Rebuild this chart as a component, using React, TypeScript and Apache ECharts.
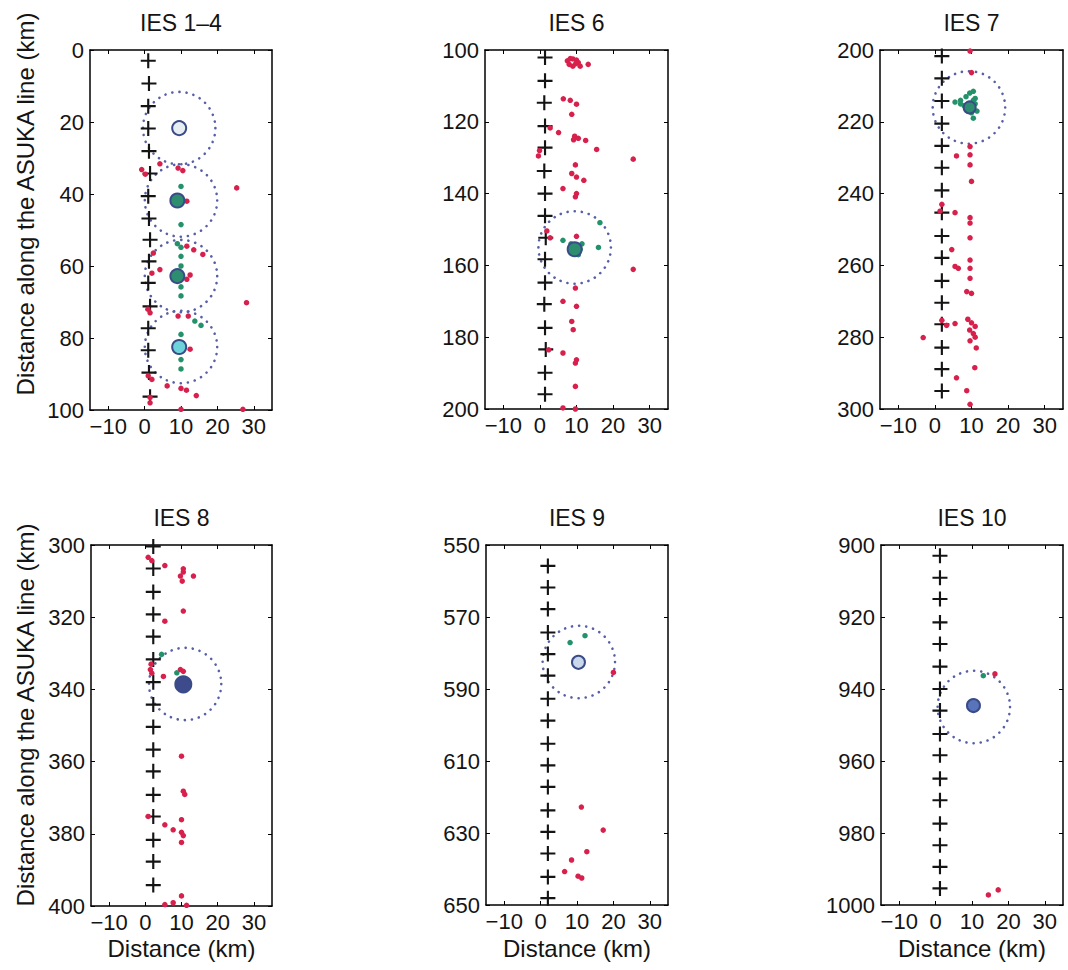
import React, { useEffect, useRef } from 'react';
import * as echarts from 'echarts';

// ---------- data ----------
const titles = ['IES 1–4', 'IES 6', 'IES 7', 'IES 8', 'IES 9', 'IES 10'];
const xRange = [-15, 35];
const xTicks = [-10, 0, 10, 20, 30];
const yRanges = [[0, 100], [100, 200], [200, 300], [300, 400], [550, 650], [900, 1000]];
const yTicks = [
  [0, 20, 40, 60, 80, 100],
  [100, 120, 140, 160, 180, 200],
  [200, 220, 240, 260, 280, 300],
  [300, 320, 340, 360, 380, 400],
  [550, 570, 590, 610, 630, 650],
  [900, 920, 940, 960, 980, 1000],
];
const yAxisName = 'Distance along the ASUKA line (km)';
const xAxisName = 'Distance (km)';

// IES 1-4
const plus1 = [[1.0, 3], [1.2, 9.3], [1.0, 15.6], [1.0, 21.8], [1.2, 28.1], [1.5, 34.3], [1.0, 40.6], [1.2, 46.8], [1.5, 52.7], [1.2, 58.7], [1.0, 64.7], [1.5, 71.2], [1.0, 77.3], [1.0, 83.4], [1.2, 89.6], [1.5, 96.3]];
const red1 = [[4.2, 31.6], [-0.8, 33.2], [0.2, 34.5], [9.2, 32.8], [10.5, 33.5], [25.3, 38.3], [11.6, 42], [11.6, 54.5], [2.4, 56.4], [13.5, 55.5], [16, 56.8], [4.2, 61], [2.0, 62], [11.6, 63.7], [12.5, 62.5], [28, 70.2], [0.9, 72], [1.5, 73], [9.2, 73.9], [12, 73.9], [12.5, 83.1], [1, 90.5], [2, 91.5], [6.2, 93.3], [10, 94], [11.5, 94.5], [14.2, 96], [1.5, 96.5], [1.5, 98], [10, 99.8], [27, 99.8]];
const green1 = [[10, 37.9], [10, 48.5], [9, 53.8], [10, 54.8], [10, 57.3], [10, 60], [10, 65.8], [10, 68.3], [13.8, 75.3], [15.5, 76.5], [10, 79], [10, 86], [10, 88.6]];
const ies1 = [[9.5, 21.7], [9, 41.8], [9, 62.8], [9.5, 82.5]];
const circ1 = [[9.5, 21.7, 10], [10, 41.8, 10], [10, 62.8, 10], [10, 82.5, 10]];

// IES 6
const plus2 = [[1.4, 102.1], [1.4, 108.6], [1.2, 114.7], [1.4, 121.2], [1.4, 127.2], [1.2, 133.7], [1.4, 140.0], [1.4, 146.2], [1.6, 152.3], [1.4, 158.3], [1.4, 164.8], [1.2, 170.8], [1.4, 177.4], [1.6, 183.4], [1.4, 189.9], [1.4, 195.9]];
const red2 = [[7.5, 103], [8.3, 102.4], [9, 102.5], [10, 102.8], [10.5, 103.5], [9, 104.5], [9.8, 103.8], [11, 104.5], [8, 104], [13.2, 104], [6.4, 113.6], [8.3, 114], [10, 115.1], [8.7, 117.9], [2.8, 121.7], [5.1, 123], [9.5, 124], [10.5, 124.6], [9.2, 125], [12.5, 125.2], [15.5, 127.7], [25.5, 130.4], [-0.4, 129.5], [-0.1, 128], [9.7, 132], [8.7, 134.4], [10, 135.4], [12, 136.3], [6.3, 138.6], [10, 140.0], [9.7, 140.9], [1.9, 150.4], [2.8, 152.3], [10, 151.9], [25.5, 161.1], [9.7, 166.3], [6.3, 170], [10, 171.4], [8.7, 175.6], [9.1, 177.9], [2.4, 183.5], [6.3, 184.4], [10, 186.3], [9.7, 187.2], [9.7, 193.7], [6.3, 199.7], [9.7, 200]];
const green2 = [[16.4, 148.1], [16, 155], [6.3, 153], [8.5, 154], [10, 154.5], [9.5, 156], [11, 155.5], [8.5, 156.5], [10.5, 157], [11.5, 154]];
const ies2 = [[9.5, 155.5]];
const circ2 = [[9.5, 155, 10]];

// IES 7
const plus3 = [[1.9, 201.7], [1.9, 207.9], [1.9, 214.2], [1.9, 220.5], [1.9, 226.7], [1.9, 232.8], [1.9, 239.1], [1.9, 245.3], [1.9, 251.8], [1.9, 257.9], [1.9, 264.3], [1.9, 270.4], [1.9, 276.4], [1.9, 282.9], [1.9, 288.9], [1.9, 295.0]];
const red3 = [[9.6, 200.3], [10, 206.3], [5.9, 229.5], [9.6, 226.9], [9.6, 229.2], [9.6, 232], [10, 236.6], [1.9, 243], [1.4, 244.9], [5.5, 245.3], [9.6, 246.7], [9.6, 248.2], [9.6, 252.3], [4.6, 255.6], [5.5, 260.3], [6.4, 260.8], [9.6, 258.5], [9.6, 260.8], [9.6, 263.6], [8.7, 267.3], [10, 267.8], [1.9, 275.3], [3.2, 276.7], [5.5, 276.2], [9, 275], [10, 276], [11, 277], [9.5, 278], [10.5, 279], [11, 280], [9.6, 281], [-3.2, 280.1], [11.3, 283], [10.9, 288.5], [5.9, 291.3], [8.7, 294.9], [9.6, 298.7]];
const green3 = [[5.5, 214.5], [7, 214], [8.5, 213], [9.5, 212], [10.5, 211.5], [9, 215], [10, 216], [11, 215], [10, 217.5], [11.5, 217], [10.5, 219], [8, 215.5], [7, 215], [11, 213.5], [9, 217], [10.5, 214]];
const ies3 = [[9.5, 216]];
const circ3 = [[9.3, 216, 10]];

// IES 8
const plus4 = [[2.2, 300.4], [2.2, 306.5], [2.2, 313.0], [2.2, 319.2], [2.2, 325.4], [2.2, 331.7], [2.2, 338.0], [2.2, 344.2], [2.2, 350.4], [2.2, 356.7], [2.2, 362.7], [2.2, 369.2], [2.2, 375.2], [2.2, 381.7], [2.2, 387.7], [2.2, 394.2]];
const red4 = [[0.8, 303.4], [1.8, 304.3], [5.4, 305.7], [10.5, 306.6], [10.5, 307.5], [9.7, 308.6], [10.2, 310], [13.3, 308.6], [10.5, 318.3], [5.4, 321.1], [1.6, 333], [1.4, 334.5], [1.8, 335.5], [5, 336.4], [9.7, 334.5], [10.5, 335], [10, 358.5], [10.5, 368.2], [10.9, 369.1], [0.8, 375.2], [5.4, 377.5], [7.7, 378.9], [10, 376.1], [10, 379.6], [10.5, 380.5], [10, 382.4], [10, 397.2], [5.4, 399.6], [7.7, 399.1], [11.4, 399.8]];
const green4 = [[4.5, 330.3], [8.7, 335.4]];
const ies4 = [[10.5, 338.6]];
const circ4 = [[11, 338.5, 10]];

// IES 9
const plus5 = [[2.0, 555.8], [2.0, 561.8], [2.0, 567.8], [2.0, 574.3], [2.0, 580.3], [2.0, 586.3], [2.0, 592.7], [2.0, 598.8], [2.0, 605.2], [2.0, 611.2], [2.0, 617.2], [2.0, 623.7], [2.0, 629.7], [2.0, 635.7], [2.0, 642.2], [2.0, 648.1]];
const red5 = [[20, 585.4], [11.2, 622.8], [17.2, 629.2], [12.7, 635.2], [8.5, 637.5], [6.6, 640.7], [10.3, 642], [11.3, 642.5]];
const green5 = [[8.1, 577.1], [12.2, 575.2]];
const ies5 = [[10.4, 582.6]];
const circ5 = [[10.5, 582.5, 10]];

// IES 10
const plus6 = [[1.2, 903.0], [1.2, 909.1], [1.2, 915.0], [1.2, 921.5], [1.2, 927.5], [1.2, 933.8], [1.2, 940.0], [1.2, 946.0], [1.2, 952.5], [1.2, 958.4], [1.2, 964.9], [1.2, 970.9], [1.2, 977.4], [1.2, 983.4], [1.2, 989.4], [1.2, 995.4]];
const red6 = [[16.3, 935.8], [14.5, 997.2], [17.2, 995.8]];
const green6 = [[13.1, 936.3]];
const ies6 = [[10.4, 944.6]];
const circ6 = [[10.5, 945, 10]];

// ---------- styling / layout ----------
const FONT = '"Liberation Sans", Arial, Helvetica, sans-serif';
const INK = '#141414';
const RED = '#d8204c';
const GREEN = '#23916a';
const CIRCLE = '#5760a6';
const PLUS = 'path://M6,0H8V6H14V8H8V14H6V8H0V6H6Z';

const panels = [
  { plus: plus1, red: red1, green: green1, ies: ies1, circ: circ1, iesFill: ['#e6eef2', '#2c8e6e', '#2c8e6e', '#6cd3da'], iesSize: 14 },
  { plus: plus2, red: red2, green: green2, ies: ies2, circ: circ2, iesFill: ['#2c8e6e'], iesSize: 14 },
  { plus: plus3, red: red3, green: green3, ies: ies3, circ: circ3, iesFill: ['#2c8e6e'], iesSize: 12 },
  { plus: plus4, red: red4, green: green4, ies: ies4, circ: circ4, iesFill: ['#3d4a8c'], iesSize: 16 },
  { plus: plus5, red: red5, green: green5, ies: ies5, circ: circ5, iesFill: ['#c9d8ea'], iesSize: 13 },
  { plus: plus6, red: red6, green: green6, ies: ies6, circ: circ6, iesFill: ['#5a74bb'], iesSize: 13 },
];

const grids = [
  { left: 90, top: 50, width: 182, height: 360 },
  { left: 485, top: 50, width: 183, height: 359 },
  { left: 880, top: 50, width: 183, height: 359 },
  { left: 91, top: 545, width: 181, height: 361 },
  { left: 486, top: 545, width: 182, height: 360 },
  { left: 881, top: 545, width: 182, height: 360 },
];

const fmtX = (v: number) => (v < 0 ? '\u2212' + String(-v) : String(v));
const fmtY = (v: number) => String(v);

function buildOption() {
  const xAxis: any[] = [];
  const yAxis: any[] = [];
  const series: any[] = [];
  const graphic: any[] = [];
  const lineStyle = { color: '#000', width: 1.5 };
  const tickStyle = { color: '#000', width: 1 };

  grids.forEach((g, i) => {
    const [ymin, ymax] = yRanges[i];
    xAxis.push({
      type: 'value', gridIndex: i, min: xRange[0], max: xRange[1], position: 'bottom',
      axisLine: { show: true, onZero: false, lineStyle },
      axisTick: { show: true, inside: true, length: 4, customValues: xTicks, lineStyle: tickStyle },
      axisLabel: { show: true, customValues: xTicks, formatter: fmtX, fontSize: 22, fontFamily: FONT, color: INK, margin: 5 },
      splitLine: { show: false },
    });
    xAxis.push({
      type: 'value', gridIndex: i, min: xRange[0], max: xRange[1], position: 'top',
      axisLine: { show: true, onZero: false, lineStyle },
      axisTick: { show: true, inside: true, length: 4, customValues: xTicks, lineStyle: tickStyle },
      axisLabel: { show: false },
      splitLine: { show: false },
    });
    yAxis.push({
      type: 'value', gridIndex: i, min: ymin, max: ymax, inverse: true, position: 'left',
      axisLine: { show: true, onZero: false, lineStyle },
      axisTick: { show: true, inside: true, length: 4, customValues: yTicks[i], lineStyle: tickStyle },
      axisLabel: { show: true, customValues: yTicks[i], formatter: fmtY, fontSize: 22, fontFamily: FONT, color: INK, margin: 6 },
      splitLine: { show: false },
    });
    yAxis.push({
      type: 'value', gridIndex: i, min: ymin, max: ymax, inverse: true, position: 'right',
      axisLine: { show: true, onZero: false, lineStyle },
      axisTick: { show: true, inside: true, length: 4, customValues: yTicks[i], lineStyle: tickStyle },
      axisLabel: { show: false },
      splitLine: { show: false },
    });

    const p = panels[i];
    const xi = 2 * i;
    const yi = 2 * i;
    series.push({
      type: 'custom', xAxisIndex: xi, yAxisIndex: yi, z: 2, clip: false,
      data: p.circ,
      renderItem: (params: any, api: any) => {
        const c = api.coord([api.value(0), api.value(1)]);
        const s = api.size([api.value(2), api.value(2)]);
        const r = (Math.abs(s[0]) + Math.abs(s[1])) / 2;
        return {
          type: 'circle',
          shape: { cx: c[0], cy: c[1], r },
          style: { fill: 'none', stroke: CIRCLE, lineWidth: 2.6, lineDash: [0.1, 7], lineCap: 'round' },
        };
      },
    });
    series.push({
      type: 'scatter', xAxisIndex: xi, yAxisIndex: yi, z: 3,
      data: p.plus, symbol: PLUS, symbolSize: 15,
      itemStyle: { color: INK, opacity: 1 },
    });
    series.push({
      type: 'scatter', xAxisIndex: xi, yAxisIndex: yi, z: 4,
      data: p.red, symbol: 'circle', symbolSize: 5.5,
      itemStyle: { color: RED, opacity: 1 },
    });
    series.push({
      type: 'scatter', xAxisIndex: xi, yAxisIndex: yi, z: 5,
      data: p.green, symbol: 'circle', symbolSize: 5.5,
      itemStyle: { color: GREEN, opacity: 1 },
    });
    series.push({
      type: 'scatter', xAxisIndex: xi, yAxisIndex: yi, z: 6,
      data: p.ies.map((v, k) => ({ value: v, itemStyle: { color: p.iesFill[k] } })),
      symbol: 'circle', symbolSize: p.iesSize,
      itemStyle: { borderColor: '#3a4c88', borderWidth: 2, opacity: 1 },
    });

    graphic.push({
      type: 'text', x: g.left + g.width / 2, y: g.top - 27,
      style: { text: titles[i], font: `23px ${FONT}`, fill: INK, textAlign: 'center', align: 'center', textVerticalAlign: 'middle', verticalAlign: 'middle' },
    });
    if (i >= 3) {
      graphic.push({
        type: 'text', x: g.left + g.width / 2, y: 948,
        style: { text: xAxisName, font: `24px ${FONT}`, fill: INK, textAlign: 'center', align: 'center', textVerticalAlign: 'middle', verticalAlign: 'middle' },
      });
    }
  });

  [204, 715].forEach((cy) => {
    graphic.push({
      type: 'text', x: 25, y: cy, rotation: Math.PI / 2,
      style: { text: yAxisName, font: `24px ${FONT}`, fill: INK, textAlign: 'center', align: 'center', textVerticalAlign: 'middle', verticalAlign: 'middle' },
    });
  });

  return {
    animation: false,
    backgroundColor: '#ffffff',
    grid: grids.map((g) => ({ ...g, containLabel: false, show: false })),
    xAxis,
    yAxis,
    series,
    graphic,
  };
}

export default function App() {
  const ref = useRef<HTMLDivElement>(null);
  useEffect(() => {
    if (!ref.current) return;
    const chart = echarts.init(ref.current, undefined, { renderer: 'svg' });
    chart.setOption(buildOption() as any);
    return () => chart.dispose();
  }, []);
  return (
    <div
      ref={ref}
      style={{ position: 'absolute', left: 0, top: 0, width: 1068, height: 970, background: '#fff' }}
    />
  );
}
